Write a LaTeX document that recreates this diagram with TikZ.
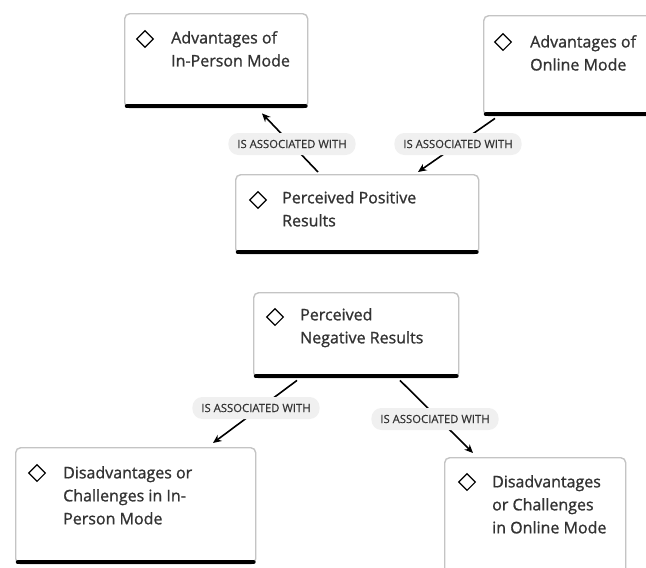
\documentclass[tikz,border=0pt]{standalone}
\usepackage{fontspec}
\setmainfont{Open Sans}
\newfontfamily\ttlfont{Open Sans}[FakeBold=1.1]
\newfontfamily\lblfont{Open Sans}[FakeBold=0.4]
\usetikzlibrary{shapes.geometric,arrows.meta,shadows}
\definecolor{txt}{HTML}{333333}
\definecolor{brd}{HTML}{C4C4C4}
\definecolor{pill}{HTML}{F0F0F0}
\tikzset{
  box/.style={draw=brd, line width=1.4pt, rounded corners=5pt, fill=white, anchor=north west, inner sep=0pt,
    drop shadow={opacity=0.12, shadow xshift=0.5pt, shadow yshift=-1pt}},
  bar/.style={line width=4.5pt, line cap=round, black},
  ico/.style={diamond, draw=black, line width=1.1pt, minimum width=17pt, minimum height=17pt, inner sep=0pt, aspect=1},
  ttl/.style={anchor=north west, inner sep=0pt, align=left, text=txt, font=\ttlfont\fontsize{16}{23}\selectfont},
  lbl/.style={fill=pill, rounded corners=10pt, text=txt, font=\lblfont\fontsize{11.3}{12}\selectfont, minimum height=22pt, inner xsep=9pt, inner ysep=0pt},
  arr/.style={line width=1.6pt, -{Stealth[length=8.5pt,width=7.5pt]}}
}
\begin{document}
\begin{tikzpicture}[x=1pt,y=-1pt]
\useasboundingbox (0,0) rectangle (646,568);
\clip (0,0) rectangle (646,568);
% boxes
\node[box, minimum width=183pt, minimum height=94pt] (inp) at (124,13) {};
\draw[bar] ([xshift=3pt,yshift=2.2pt]inp.south west) -- ([xshift=-3pt,yshift=2.2pt]inp.south east);
\node[ico] (inpi) at (145,39) {};
\node[ttl] (inpt) at (171,31) {Advantages of\\In-Person Mode};

\node[box, minimum width=190pt, minimum height=100pt] (onl) at (483,15) {};
\draw[bar] ([xshift=3pt,yshift=2.2pt]onl.south west) -- ([xshift=-3pt,yshift=2.2pt]onl.south east);
\node[ico] (onli) at (503,42) {};
\node[ttl] (onlt) at (530,35) {Advantages of\\Online Mode};

\node[box, minimum width=243pt, minimum height=79pt] (pos) at (235,174) {};
\draw[bar] ([xshift=3pt,yshift=2.2pt]pos.south west) -- ([xshift=-3pt,yshift=2.2pt]pos.south east);
\node[ico] (posi) at (258,200) {};
\node[ttl] (post) at (282,191) {Perceived Positive\\Results};

\node[box, minimum width=205pt, minimum height=85pt] (neg) at (253,292) {};
\draw[bar] ([xshift=3pt,yshift=2.2pt]neg.south west) -- ([xshift=-3pt,yshift=2.2pt]neg.south east);
\node[ico] (negi) at (275,317) {};
\node[ttl] (negt) at (300,308) {Perceived\\Negative Results};

\node[box, minimum width=240pt, minimum height=116pt] (dip) at (15,447) {};
\draw[bar] ([xshift=3pt,yshift=2.2pt]dip.south west) -- ([xshift=-3pt,yshift=2.2pt]dip.south east);
\node[ico] (dipi) at (37,473) {};
\node[ttl] (dipt) at (63,466) {Disadvantages or\\Challenges in In-\\Person Mode};

\node[box, minimum width=181pt, minimum height=150pt] (dio) at (444,457) {};
\node[ico] (dioi) at (467,482) {};
\node[ttl] (diot) at (492,475) {Disadvantages\\or Challenges\\in Online Mode};

% connectors
\draw[arr] ([xshift=83pt,yshift=2pt]pos.north west) -- ([xshift=138pt,yshift=-5pt]inp.south west);
\draw[arr] ([xshift=12pt,yshift=-2pt]onl.south west) -- ([xshift=183pt,yshift=2pt]pos.north west);
\draw[arr] ([xshift=44pt,yshift=-2pt]neg.south west) -- ([xshift=198pt,yshift=4pt]dip.north west);
\draw[arr] ([xshift=147pt,yshift=-2pt]neg.south west) -- ([xshift=29pt,yshift=4pt]dio.north west);

% labels
\node[lbl] (l1) at (292,144) {IS ASSOCIATED WITH};
\node[lbl] (l2) at (458,144) {IS ASSOCIATED WITH};
\node[lbl] (l3) at (256,408) {IS ASSOCIATED WITH};
\node[lbl] (l4) at (435,419) {IS ASSOCIATED WITH};
\end{tikzpicture}
\end{document}
